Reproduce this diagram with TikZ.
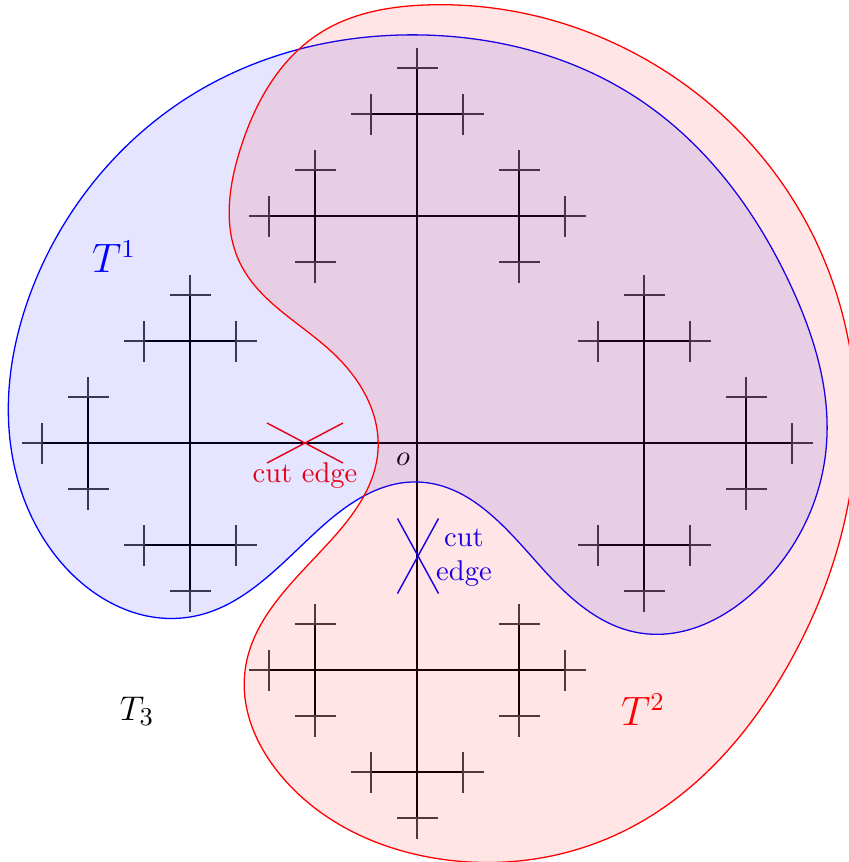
\documentclass[tikz,border=0pt]{standalone}
\usetikzlibrary{calc,hobby}
\begin{document}
\begin{tikzpicture}[x=0.35pt,y=-0.35pt,
  lvlone/.style={line width=0.4pt},
  lvlmid/.style={line width=0.8pt},
  lvlleaf/.style={line width=0.5pt, black!75},
  blob/.style={line width=0.45pt},
  cutmark/.style={line width=0.5pt}]
\useasboundingbox (0,0) rectangle (848,862);
\coordinate (o) at (417,443);
\foreach \a in {0,90,180,270}{
  \draw[lvlone] (o) -- ++(\a:227) coordinate (n\a);
  \foreach \b in {0,90,180,270}{
    \pgfmathtruncatemacro\db{mod(\b-\a+360,360)}
    \ifnum\db=180\relax\else
      \draw[lvlmid] (n\a) -- ++(\b:102) coordinate (n\a-\b);
      \foreach \c in {0,90,180,270}{
        \pgfmathtruncatemacro\dc{mod(\c-\b+360,360)}
        \ifnum\dc=180\relax\else
          \draw[lvlmid] (n\a-\b) -- ++(\c:46) coordinate (n\a-\b-\c);
          \foreach \d in {0,90,180,270}{
            \pgfmathtruncatemacro\dd{mod(\d-\c+360,360)}
            \ifnum\dd=180\relax\else
              \draw[lvlleaf] (n\a-\b-\c) -- ++(\d:20.5) coordinate (n\a-\b-\c-\d);
            \fi
          }
        \fi
      }
    \fi
  }
}
% labels
\node[text=blue, font=\fontsize{13.3}{16}\selectfont] (t1) at (114,257) {$T^1$};
\node[text=red, font=\fontsize{13.3}{16}\selectfont] (t2) at (643,710) {$T^2$};
\node[font=\fontsize{12.5}{15}\selectfont] (t3) at (137,711) {$T_3$};
\node (olab) at (403,459) {$o$};
% cut marks
\coordinate (rx) at (305,443);
\draw[red, cutmark] (rx) ++(-38,-20) -- ++(76,40);
\draw[red, cutmark] (rx) ++(-38,20) -- ++(76,-40);
\node[text=red] (rcut) at (305,476) {cut edge};
\coordinate (bx) at (418,556);
\draw[blue, cutmark] (bx) ++(-20.5,-37.5) -- ++(41,75);
\draw[blue, cutmark] (bx) ++(20.5,-37.5) -- ++(-41,75);
\node[text=blue, align=center] (bcut) at (464,558) {cut\\edge};
% blobs
\filldraw[blob, draw=blue, fill=blue, fill opacity=0.1, use Hobby shortcut, closed=true]
  (10,440) .. (28,300) .. (80,200) .. (200,90) .. (424,35) .. (640,100) .. (791,286)
  .. (826,450) .. (757,589) .. (640,633) .. (541,567) .. (418,482)
  .. (317,531) .. (190,617) .. (55,555);
\filldraw[blob, draw=red, fill=red, fill opacity=0.1, use Hobby shortcut, closed=true]
  (425,5) .. (657,66) .. (805,220) .. (856,430) .. (791,660) .. (624,831)
  .. (440,859) .. (283,778) .. (245,671) .. (333,538) .. (378,450)
  .. (333,353) .. (240,263) .. (240,150) .. (320,33);
\end{tikzpicture}
\end{document}
